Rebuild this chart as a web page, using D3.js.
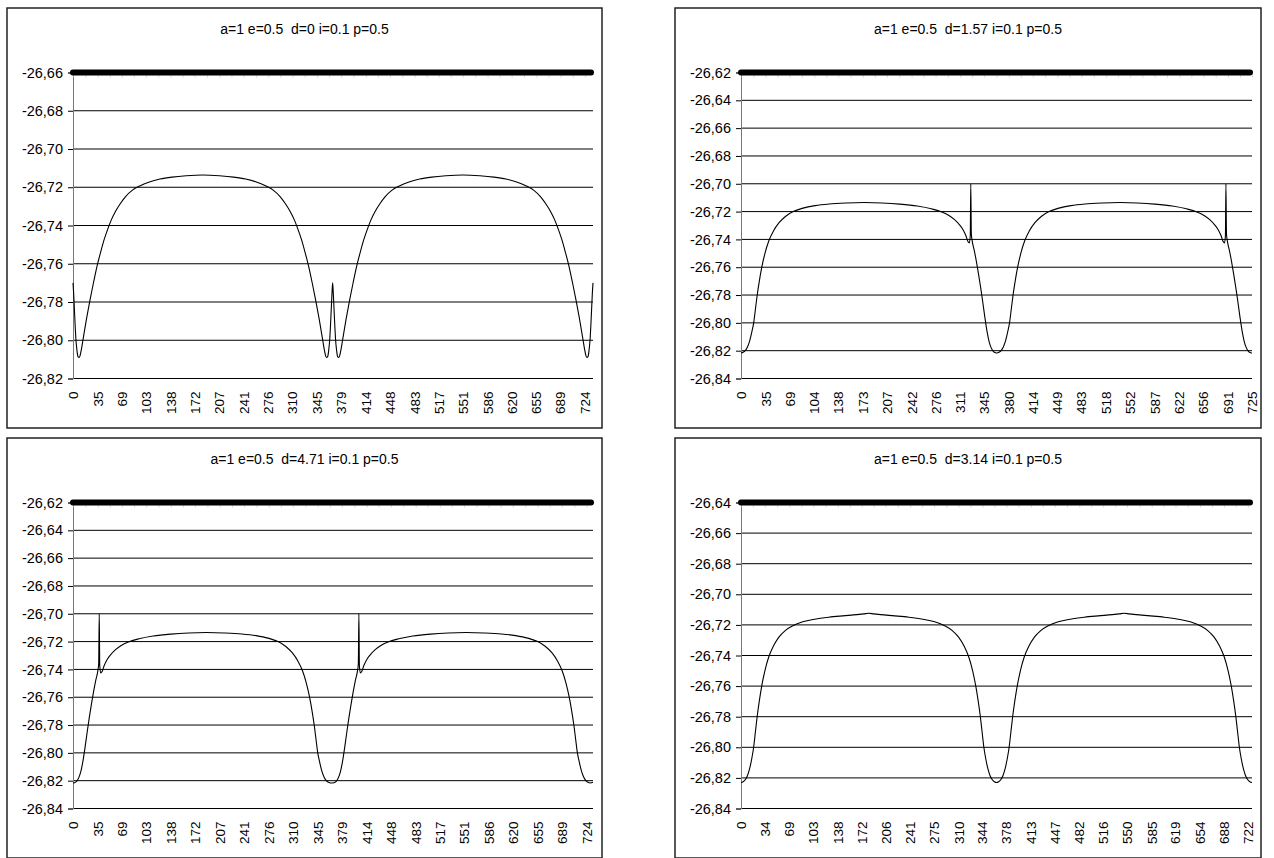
<!DOCTYPE html>
<html>
<head>
<meta charset="utf-8">
<script src="https://cdn.jsdelivr.net/npm/d3@7/dist/d3.min.js"></script>
<style>
  body { margin: 0; background: #fff; }
  svg { display: block; }
  text { font-family: Arial, "Liberation Sans", sans-serif; fill: #000; }
</style>
</head>
<body>
<svg id="chart" width="1274" height="858"></svg>
<script>
// panel titles
const titles = [
  "a=1 e=0.5  d=0 i=0.1 p=0.5",
  "a=1 e=0.5  d=1.57 i=0.1 p=0.5",
  "a=1 e=0.5  d=4.71 i=0.1 p=0.5",
  "a=1 e=0.5  d=3.14 i=0.1 p=0.5"
]

// category tick labels (every n-th category)
const xLabels_d0 = [0, 35, 69, 103, 138, 172, 207, 241, 276, 310, 345, 379, 414, 448, 483, 517, 551, 586, 620, 655, 689, 724]
const xLabels_d157 = [0, 35, 69, 104, 138, 173, 207, 242, 276, 311, 345, 380, 414, 449, 483, 518, 552, 587, 622, 656, 691, 725]
const xLabels_d471 = [0, 35, 69, 103, 138, 172, 207, 241, 276, 310, 345, 379, 414, 448, 483, 517, 551, 586, 620, 655, 689, 724]
const xLabels_d314 = [0, 34, 69, 103, 138, 172, 206, 241, 275, 310, 344, 378, 413, 447, 482, 516, 550, 585, 619, 654, 688, 722]

// value axis ticks
const yTicks_d0 = [-26.82, -26.80, -26.78, -26.76, -26.74, -26.72, -26.70, -26.68, -26.66]
const yTicks_d157 = [-26.84, -26.82, -26.80, -26.78, -26.76, -26.74, -26.72, -26.70, -26.68, -26.66, -26.64, -26.62]
const yTicks_d471 = [-26.84, -26.82, -26.80, -26.78, -26.76, -26.74, -26.72, -26.70, -26.68, -26.66, -26.64, -26.62]
const yTicks_d314 = [-26.84, -26.82, -26.80, -26.78, -26.76, -26.74, -26.72, -26.70, -26.68, -26.66, -26.64]

// series: d=0
const t_d0 = [0, 1, 2, 3, 4, 5.5, 7, 8.5, 10, 12, 14, 19, 24, 29, 34, 39, 44, 49, 54, 60, 67, 74, 84, 95, 108, 123, 140, 160, 183.5,
  207, 227, 244, 259, 272, 283, 293, 300, 307, 313, 318, 323, 328, 333, 338, 343, 348, 353, 355, 357, 358.5, 360, 361.5, 363, 364, 365, 366, 367,
  368, 369, 370, 371, 372.5, 374, 375.5, 377, 379, 381, 386, 391, 396, 401, 406, 411, 416, 421, 427, 434, 441, 451, 462, 475, 490, 507, 527, 551,
  575, 595, 612, 627, 640, 651, 661, 668, 675, 681, 686, 691, 696, 701, 706, 711, 716, 721, 723, 725, 726.5, 728, 729.5, 731, 732, 733, 734, 735]
const v_d0 = [-26.770, -26.776, -26.784, -26.792, -26.799, -26.805, -26.8085, -26.809, -26.808, -26.8045, -26.800, -26.789, -26.779, -26.7698, -26.7612, -26.7540, -26.7474, -26.7420, -26.7372, -26.7327, -26.7285, -26.7250, -26.7215, -26.7192, -26.7172, -26.7157, -26.7147, -26.7140, -26.7136,
  -26.7140, -26.7147, -26.7157, -26.7172, -26.7192, -26.7215, -26.7250, -26.7285, -26.7327, -26.7372, -26.7420, -26.7474, -26.7540, -26.7612, -26.7698, -26.779, -26.789, -26.800, -26.8045, -26.808, -26.809, -26.8085, -26.805, -26.799, -26.792, -26.784, -26.776, -26.770,
  -26.776, -26.784, -26.792, -26.799, -26.805, -26.8085, -26.809, -26.808, -26.8045, -26.800, -26.789, -26.779, -26.7698, -26.7612, -26.7540, -26.7474, -26.7420, -26.7372, -26.7327, -26.7285, -26.7250, -26.7215, -26.7192, -26.7172, -26.7157, -26.7147, -26.7140, -26.7136,
  -26.7140, -26.7147, -26.7157, -26.7172, -26.7192, -26.7215, -26.7250, -26.7285, -26.7327, -26.7372, -26.7420, -26.7474, -26.7540, -26.7612, -26.7698, -26.779, -26.789, -26.800, -26.8045, -26.808, -26.809, -26.8085, -26.805, -26.799, -26.792, -26.784, -26.776, -26.770]

// series: d=1.57
const t_d157 = [0, 3, 6, 9, 12, 15.6, 18, 20.5, 23, 26, 29.5, 34, 39.5, 46, 54, 63, 74, 88, 105, 125, 150, 175,
  200, 225, 250, 270, 285, 295, 303, 310, 315, 319, 322, 324, 325.3, 326, 326.8, 328, 331, 334, 337, 340, 343, 346, 349, 352, 355, 358, 361, 363,
  366, 369, 372, 375, 378.6, 381, 383.5, 386, 389, 392.5, 397, 402.5, 409, 417, 426, 437, 451, 468, 488, 513, 538,
  562, 587, 612, 632, 647, 657, 665, 672, 677, 681, 684, 686, 687.3, 688, 688.8, 690, 693, 696, 699, 702, 705, 708, 711, 714, 717, 720, 723, 725]
const v_d157 = [-26.8217, -26.8212, -26.8200, -26.8175, -26.8135, -26.8060, -26.8000, -26.7900, -26.7800, -26.7700, -26.7600, -26.7500, -26.7410, -26.7340, -26.7280, -26.7235, -26.7200, -26.7175, -26.7157, -26.7145, -26.7138, -26.7135,
  -26.7138, -26.7146, -26.7160, -26.7180, -26.7203, -26.7228, -26.7258, -26.7295, -26.7330, -26.7372, -26.7415, -26.7425, -26.7370, -26.7000, -26.7360, -26.7410, -26.7480, -26.7560, -26.7650, -26.7745, -26.7850, -26.7960, -26.8060, -26.8135, -26.8180, -26.8205, -26.8215, -26.8217,
  -26.8212, -26.8200, -26.8175, -26.8135, -26.8060, -26.8000, -26.7900, -26.7800, -26.7700, -26.7600, -26.7500, -26.7410, -26.7340, -26.7280, -26.7235, -26.7200, -26.7175, -26.7157, -26.7145, -26.7138, -26.7135,
  -26.7138, -26.7146, -26.7160, -26.7180, -26.7203, -26.7228, -26.7258, -26.7295, -26.7330, -26.7372, -26.7415, -26.7425, -26.7370, -26.7000, -26.7360, -26.7410, -26.7480, -26.7560, -26.7650, -26.7745, -26.7850, -26.7960, -26.8060, -26.8135, -26.8180, -26.8205, -26.8215, -26.8217]

// series: d=4.71
const t_d471 = [0, 2, 5, 8, 11, 14, 17, 20, 23, 26, 29, 32, 35, 36.2, 37, 37.7, 39, 41, 44, 48, 53, 60, 68, 78, 93, 113, 138, 163, 188,
  213, 238, 258, 275, 289, 300, 309, 317, 323.5, 329, 333.5, 337, 340, 342.5, 345, 347.4, 351, 354, 357, 360, 363,
  368, 371, 374, 377, 380, 383, 386, 389, 392, 395, 398, 401, 402.2, 403, 403.7, 405, 407, 410, 414, 419, 426, 434, 444, 459, 479, 504, 529, 554,
  579, 604, 624, 641, 655, 666, 675, 683, 689.5, 695, 699.5, 703, 706, 708.5, 711, 713.4, 717, 720, 723, 726, 729, 733]
const v_d471 = [-26.8217, -26.8215, -26.8205, -26.8180, -26.8135, -26.8060, -26.7960, -26.7850, -26.7745, -26.7650, -26.7560, -26.7480, -26.7410, -26.7360, -26.7000, -26.7370, -26.7425, -26.7415, -26.7372, -26.7330, -26.7295, -26.7258, -26.7228, -26.7203, -26.7180, -26.7160, -26.7146, -26.7138, -26.7135,
  -26.7138, -26.7145, -26.7157, -26.7175, -26.7200, -26.7235, -26.7280, -26.7340, -26.7410, -26.7500, -26.7600, -26.7700, -26.7800, -26.7900, -26.8000, -26.8060, -26.8135, -26.8175, -26.8200, -26.8212, -26.8217,
  -26.8215, -26.8205, -26.8180, -26.8135, -26.8060, -26.7960, -26.7850, -26.7745, -26.7650, -26.7560, -26.7480, -26.7410, -26.7360, -26.7000, -26.7370, -26.7425, -26.7415, -26.7372, -26.7330, -26.7295, -26.7258, -26.7228, -26.7203, -26.7180, -26.7160, -26.7146, -26.7138, -26.7135,
  -26.7138, -26.7145, -26.7157, -26.7175, -26.7200, -26.7235, -26.7280, -26.7340, -26.7410, -26.7500, -26.7600, -26.7700, -26.7800, -26.7900, -26.8000, -26.8060, -26.8135, -26.8175, -26.8200, -26.8212, -26.8217, -26.8212]

// series: d=3.14
const t_d314 = [0, 3, 6, 9, 12, 15.5, 18, 20.5, 23, 26, 29.5, 34, 39.5, 46, 54, 63, 74, 88, 105, 125, 145, 165, 175, 182,
  189, 199, 219, 239, 259, 276, 290, 301, 310, 318, 324.5, 330, 334.5, 338, 341, 343.5, 346, 348.5, 352, 355, 358, 361, 364,
  367, 370, 373, 376, 379.5, 382, 384.5, 387, 390, 393.5, 398, 403.5, 410, 418, 427, 438, 452, 469, 489, 509, 529, 539, 546,
  553, 563, 583, 603, 623, 640, 654, 665, 674, 682, 688.5, 694, 698.5, 702, 705, 707.5, 710, 712.5, 716, 719, 722, 725, 728]
const v_d314 = [-26.8230, -26.8225, -26.8212, -26.8188, -26.8145, -26.8070, -26.8000, -26.7900, -26.7800, -26.7700, -26.7600, -26.7500, -26.7410, -26.7340, -26.7280, -26.7237, -26.7205, -26.7180, -26.7163, -26.7150, -26.7141, -26.7133, -26.7128, -26.7124,
  -26.7128, -26.7133, -26.7141, -26.7150, -26.7163, -26.7180, -26.7205, -26.7237, -26.7280, -26.7340, -26.7410, -26.7500, -26.7600, -26.7700, -26.7800, -26.7900, -26.8000, -26.8070, -26.8145, -26.8188, -26.8212, -26.8225, -26.8230,
  -26.8225, -26.8212, -26.8188, -26.8145, -26.8070, -26.8000, -26.7900, -26.7800, -26.7700, -26.7600, -26.7500, -26.7410, -26.7340, -26.7280, -26.7237, -26.7205, -26.7180, -26.7163, -26.7150, -26.7141, -26.7133, -26.7128, -26.7124,
  -26.7128, -26.7133, -26.7141, -26.7150, -26.7163, -26.7180, -26.7205, -26.7237, -26.7280, -26.7340, -26.7410, -26.7500, -26.7600, -26.7700, -26.7800, -26.7900, -26.8000, -26.8070, -26.8145, -26.8188, -26.8212, -26.8225, -26.8230]

const panels = [
  { box: [7, 8], title: titles[0], xMax: 735, labels: xLabels_d0, yTicks: yTicks_d0, t: t_d0, v: v_d0 },
  { box: [675, 8], title: titles[1], xMax: 725, labels: xLabels_d157, yTicks: yTicks_d157, t: t_d157, v: v_d157 },
  { box: [7, 438], title: titles[2], xMax: 733, labels: xLabels_d471, yTicks: yTicks_d471, t: t_d471, v: v_d471 },
  { box: [675, 438], title: titles[3], xMax: 728, labels: xLabels_d314, yTicks: yTicks_d314, t: t_d314, v: v_d314 }
]

const boxW = [595, 586]
const boxH = 420

const locale = d3.formatLocale({ decimal: ",", thousands: ".", grouping: [3], currency: ["", ""], minus: "-" })
const fmt = locale.format(".2f")

const svg = d3.select("#chart")

panels.forEach((p, k) => {
  const bx = p.box[0], by = p.box[1]
  const bw = boxW[k % 2]
  const left = bx + 66
  const right = bx + bw - 9
  const top = by + 64.5
  const bottom = by + 370.5

  const g = svg.append("g")

  // chart border
  g.append("rect")
    .attr("x", bx).attr("y", by)
    .attr("width", bw).attr("height", boxH)
    .attr("fill", "#fff")
    .attr("stroke", "#222")
    .attr("stroke-width", 1.5)

  g.append("text")
    .attr("x", bx + bw / 2)
    .attr("y", by + 26)
    .attr("text-anchor", "middle")
    .style("font-size", "14px")
    .style("white-space", "pre")
    .text(p.title)

  const x = d3.scaleLinear().domain([0, p.xMax]).range([left, right])
  const yMin = d3.min(p.yTicks), yMax = d3.max(p.yTicks)
  const y = d3.scaleLinear().domain([yMin, yMax]).range([bottom, top])

  // gridlines
  g.append("g")
    .selectAll("line")
    .data(p.yTicks.filter(d => d !== yMax))
    .enter()
    .append("line")
    .attr("x1", left).attr("x2", right)
    .attr("y1", d => y(d)).attr("y2", d => y(d))
    .attr("stroke", "#000")
    .attr("stroke-width", 1)

  // value axis
  const yAxis = d3.axisLeft(y).tickValues(p.yTicks).tickSize(5).tickPadding(5).tickFormat(fmt)
  const ya = g.append("g").attr("transform", `translate(${left},0)`).call(yAxis)
  ya.select(".domain").attr("stroke", "#777")
  ya.selectAll(".tick line").attr("stroke", "#000")
  ya.selectAll("text").style("font-size", "14.5px").attr("font-family", null)

  // category labels at the bottom
  g.append("g")
    .selectAll("text")
    .data(p.labels)
    .enter()
    .append("text")
    .attr("transform", d => `translate(${x(d) + 5},${bottom + 13}) rotate(-90)`)
    .attr("text-anchor", "end")
    .style("font-size", "13.5px")
    .text(d => d)

  // series line
  const pts = p.t.map((t, i) => ({ t: t, v: p.v[i] }))
  const line = d3.line().x(d => x(d.t)).y(d => y(d.v)).curve(d3.curveMonotoneX)
  g.append("path")
    .datum(pts)
    .attr("d", line)
    .attr("fill", "none")
    .attr("stroke", "#000")
    .attr("stroke-width", 1.1)

  // category axis crosses at the top (thick)
  const minor = p.labels.flatMap((d, i) => i < p.labels.length - 1 ? [d, (d + p.labels[i + 1]) / 2] : [d])
  const xAxis = d3.axisBottom(x).tickValues(minor).tickSize(5).tickFormat("")
  const xa = g.append("g").attr("transform", `translate(0,${top})`).call(xAxis)
  xa.selectAll(".tick line").attr("stroke", "#bbb").attr("stroke-width", 0.6).attr("y1", 3)
  xa.select(".domain").attr("stroke", "#000").attr("stroke-width", 6)
    .attr("d", `M${left},0H${right - 2}`).attr("stroke-linecap", "round").raise()
})
</script>
</body>
</html>
